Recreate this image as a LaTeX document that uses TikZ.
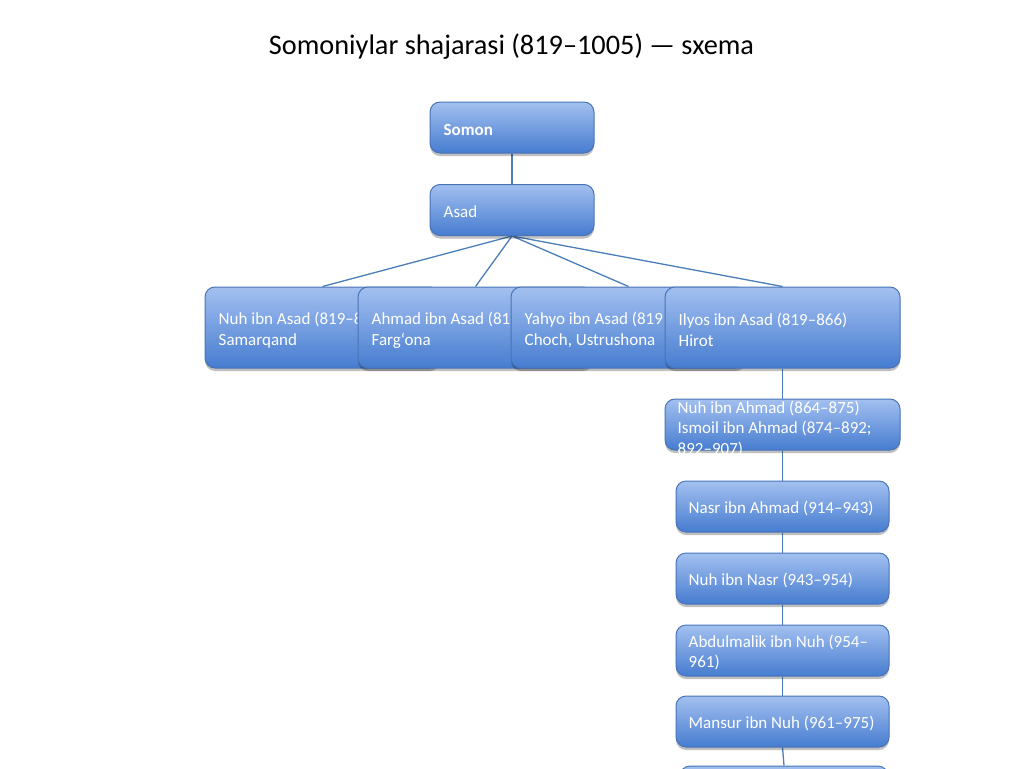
\documentclass[tikz,border=0pt]{standalone}
\usepackage{fontspec}
\setmainfont{Carlito}
\usetikzlibrary{shadows,backgrounds}
\definecolor{boxtop}{RGB}{163,192,240}
\definecolor{boxbot}{RGB}{70,124,208}
\definecolor{boxline}{RGB}{72,115,182}
\definecolor{connc}{RGB}{74,126,187}
\begin{document}
\begin{tikzpicture}[x=1pt,y=-1pt,
  box/.style={draw=boxline, line width=1pt, rounded corners=10pt,
    top color=boxtop, bottom color=boxbot, inner sep=0pt,
    drop shadow={shadow xshift=0pt, shadow yshift=-3pt, opacity=0.25, fill=black}},
  wide/.style={minimum width=235pt, minimum height=81pt},
  mid/.style={minimum width=235pt, minimum height=51pt},
  narrow/.style={minimum width=213pt, minimum height=51pt},
  top/.style={minimum width=164pt, minimum height=51pt},
  txt/.style={anchor=west, inner sep=0pt, align=left, text=white,
    font=\fontsize{17}{20.5}\selectfont},
  connl/.style={draw=connc, line width=1.3pt}]
\useasboundingbox (0,0) rectangle (1024,768);
\node[anchor=base, inner sep=0pt, font=\fontsize{28.3}{34}\selectfont] (title) at (511.5,55) {Somoniylar shajarasi (819–1005) — sxema};

\node[box, top] (somon) at (512,127.5) {};
\node[txt, font=\fontsize{17}{20.5}\selectfont\bfseries] (tsomon) at ([xshift=14pt,yshift=-2pt]somon.west) {Somon};
\node[box, top] (asad) at (512,210) {};
\node[txt] (tasad) at ([xshift=14pt,yshift=-2pt]asad.west) {Asad};

\node[box, wide] (r1) at (322.5,327.5) {};
\node[txt] (tr1) at ([xshift=14pt,yshift=-2.5pt]r1.west) {Nuh ibn Asad (819–8\\Samarqand};
\node[box, wide] (r2) at (475.5,327.5) {};
\node[txt] (tr2) at ([xshift=14pt,yshift=-2.5pt]r2.west) {Ahmad ibn Asad (81\\Farg‘ona};
\node[box, wide] (r3) at (628.5,327.5) {};
\node[txt] (tr3) at ([xshift=14pt,yshift=-2.5pt]r3.west) {Yahyo ibn Asad (819\\Choch, Ustrushona};
\node[box, wide] (r4) at (782.5,327.5) {};
\node[txt] (tr4) at ([xshift=14pt,yshift=-2.5pt]r4.west) {Ilyos ibn Asad (819–866)\\Hirot};

\node[box, mid] (c1) at (782.5,424.5) {};
\node[txt] (tc1) at ([xshift=13pt,yshift=-4pt]c1.west) {Nuh ibn Ahmad (864–875)\\Ismoil ibn Ahmad (874–892;\\892–907)};
\node[box, narrow] (c2) at (782.5,506.5) {};
\node[txt] (tc2) at ([xshift=13pt,yshift=-2pt]c2.west) {Nasr ibn Ahmad (914–943)};
\node[box, narrow] (c3) at (782.5,578.5) {};
\node[txt] (tc3) at ([xshift=13pt,yshift=-2pt]c3.west) {Nuh ibn Nasr (943–954)};
\node[box, narrow] (c4) at (782.5,650.5) {};
\node[txt] (tc4) at ([xshift=13pt,yshift=-2pt]c4.west) {Abdulmalik ibn Nuh (954–\\961)};
\node[box, narrow] (c5) at (782.5,721.5) {};
\node[txt] (tc5) at ([xshift=13pt,yshift=-2pt]c5.west) {Mansur ibn Nuh (961–975)};
\node[box, minimum width=208pt, minimum height=51pt] (c6) at (784,791.5) {};

\begin{scope}[on background layer]
\draw[connl] (somon.south) -- (asad.north);
\foreach \r in {r1,r2,r3,r4} \draw[connl] (asad.south) -- (\r.north);
\draw[connl] (r4.south) -- (c1.north);
\draw[connl] (c1.south) -- (c2.north);
\draw[connl] (c2.south) -- (c3.north);
\draw[connl] (c3.south) -- (c4.north);
\draw[connl] (c4.south) -- (c5.north);
\draw[connl] (c5.south) -- (c6.north);
\end{scope}
\end{tikzpicture}
\end{document}
